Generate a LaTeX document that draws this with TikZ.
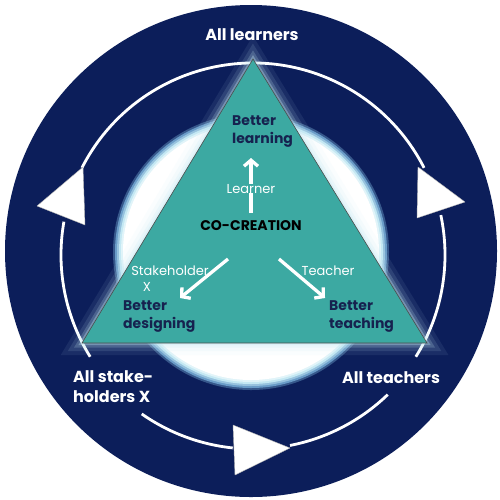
\documentclass[tikz,border=0pt]{standalone}
\usepackage{fontspec}
\setmainfont{Poppins}
\usetikzlibrary{arrows.meta}
\definecolor{bgnavy}{HTML}{0C1E5A}
\definecolor{trifill}{HTML}{3CA9A2}
\definecolor{txtnavy}{HTML}{16224F}
\definecolor{glowblue}{HTML}{C4E8F3}
\definecolor{midblue}{HTML}{6A9CC8}
\tikzset{
  ring/.style={draw=white, line width=2.8pt},
  headw/.style={fill=white, draw=gray!60, line width=0.4pt, line join=round},
  outlbl/.style={text=white, font=\bfseries\fontsize{16}{20}\selectfont, align=left, inner sep=0pt},
  inlbl/.style={text=txtnavy, font=\bfseries\fontsize{14}{18}\selectfont, align=left, inner sep=0pt},
  arrlbl/.style={text=white, font=\fontsize{13}{13}\selectfont, inner sep=0pt},
  warr/.style={draw=white, line width=3.3pt, -{Straight Barb[length=6pt,width=14pt]}},
}
\begin{document}
\begin{tikzpicture}[x=1pt,y=-1pt]
\useasboundingbox (0,0) rectangle (500,499);
\fill[white] (0,0) rectangle (500,499);
\coordinate (O) at (251,251);
\fill[bgnavy] (O) circle[radius=246];
% inner disc with soft edge
\coordinate (D) at (251,252);
\fill[bgnavy!55!midblue] (D) circle[radius=138];
\fill[midblue] (D) circle[radius=136];
\fill[midblue!50!glowblue] (D) circle[radius=134];
\fill[glowblue] (D) circle[radius=132];
\fill[glowblue!50!white] (D) circle[radius=130];
\fill[white] (D) circle[radius=128];
% ring arcs
\coordinate (R) at (253,255);
\draw[ring] (R) ++(-153:192) arc[start angle=-153, end angle=-27, radius=192];
\draw[ring] (R) ++(-12:192) arc[start angle=-12, end angle=32, radius=192];
\draw[ring] (R) ++(46:194) arc[start angle=46, end angle=79, radius=194];
\draw[ring] (R) ++(96:194) arc[start angle=96, end angle=125, radius=194];
\draw[ring] (R) ++(148:192) arc[start angle=148, end angle=190, radius=192];
% arrowheads of the ring
\filldraw[headw] (37,206) -- (83,167) -- (85,225) -- cycle;
\filldraw[headw] (418,167) -- (465,202) -- (417,218) -- cycle;
\filldraw[headw] (233,425) -- (290,448) -- (235,475) -- cycle;
% triangle
\coordinate (A) at (253,59);
\coordinate (B) at (82,343);
\coordinate (C) at (427,343);
\foreach \w/\o in {24/0.08, 16/0.12, 9/0.2, 4/0.35}
  \draw[glowblue, line width=\w pt, opacity=\o, line join=miter] (A) -- (B) -- (C) -- cycle;
\filldraw[fill=trifill, draw=black!70, line width=0.6pt] (A) -- (B) -- (C) -- cycle;
% outer labels
\node[outlbl] (alll) at (252,35) {All learners};
\node[outlbl, anchor=west] (alls) at (73,387) {All stake-\\holders X};
\node[outlbl] (allt) at (391,378) {All teachers};
% inner labels
\node[inlbl, anchor=west] (bl) at (232,132) {Better\\learning};
\node[inlbl, anchor=west] (bd) at (123,317) {Better\\designing};
\node[inlbl, anchor=west] (bt) at (329,317) {Better\\teaching};
\node[inlbl, text=black] (co) at (251,226) {CO-CREATION};
% arrows
\coordinate (u1) at (251,213);
\coordinate (u2) at (251,158);
\draw[warr] (u1) -- node[pos=0.44, fill=trifill, inner sep=2pt, arrlbl] (lrn) {Learner} (u2);
\coordinate (l1) at (228,259);
\coordinate (l2) at (180,298);
\draw[warr] (l1) -- (l2);
\coordinate (r1) at (279,259);
\coordinate (r2) at (325,298);
\draw[warr] (r1) -- (r2);
\node[arrlbl] (stk) at (170,271) {Stakeholder};
\node[arrlbl] (stx) at (147,287) {X};
\node[arrlbl] (tch) at (328,271) {Teacher};
\end{tikzpicture}
\end{document}
